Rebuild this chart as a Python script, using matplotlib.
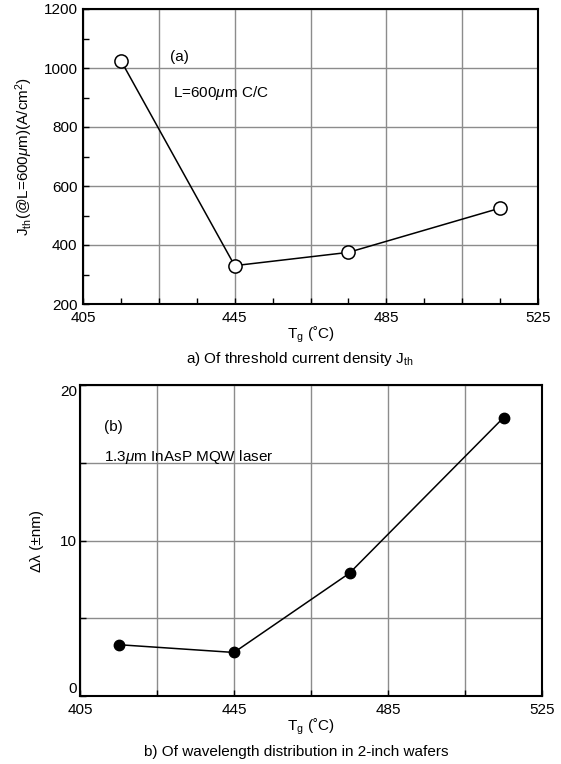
import numpy as np
import matplotlib
matplotlib.use("Agg")
import matplotlib.pyplot as plt

plt.rcParams['font.family'] = ['Liberation Sans', 'DejaVu Sans']
plt.rcParams['mathtext.fontset'] = 'custom'
plt.rcParams['mathtext.rm'] = 'Liberation Sans'
plt.rcParams['mathtext.it'] = 'Liberation Sans:italic'
plt.rcParams['font.size'] = 11

# Data
tg = [415, 445, 475, 515]
jth = [1025, 330, 375, 525]
dlam = [3.3, 2.8, 7.9, 17.9]

x_labels = [405, 445, 485, 525]

W, H = 561, 764
fig = plt.figure(figsize=(W / 100, H / 100), dpi=100)

ax1 = fig.add_axes([83 / W, 1 - 304 / H, 455 / W, 295 / H])
ax2 = fig.add_axes([80 / W, 1 - 696 / H, 462 / W, 311 / H])


def style_x(ax):
    ax.set_xlim(405, 525)
    ax.set_xticks(np.arange(405, 526, 20))
    ax.set_xticklabels([str(v) if v in x_labels else '' for v in range(405, 526, 20)])
    ax.grid(True, color='#8c8c8c', linewidth=1.0)
    ax.set_axisbelow(True)
    for s in ax.spines.values():
        s.set_linewidth(1.5)
    ax.tick_params(axis='x', direction='in', length=4, width=1, top=False, pad=5)
    ax.tick_params(axis='y', direction='in', length=4, width=1, right=False, pad=4)
    ax.set_xlabel('T$_{\\rm g}$ (˚C)', labelpad=0)


# top panel
style_x(ax1)
ax1.set_ylim(200, 1200)
ax1.set_yticks(np.arange(200, 1201, 200))
ax1.set_xticks(np.arange(415, 525, 20), minor=True)
ax1.set_yticks(np.arange(300, 1200, 200), minor=True)
ax1.tick_params(which='minor', direction='in', length=4, width=1)
ax1.plot(tg, jth, color='black', linewidth=1.1, marker='o', markersize=9.5,
         markerfacecolor='white', markeredgecolor='black', markeredgewidth=1.1)
ax1.set_ylabel('J$_{\\rm th}$(@L=600$\\mu$m)(A/cm$^2$)', labelpad=6)
ax1.text(0.191, 0.837, '(a)', transform=ax1.transAxes, va='center', ha='left')
ax1.text(0.198, 0.715, 'L=600$\\mu$m C/C', transform=ax1.transAxes, va='center', ha='left')
fig.text(300 / W, 1 - 359 / H, 'a) Of threshold current density J$_{\\rm th}$',
         ha='center', va='center')

# bottom panel
style_x(ax2)
ax2.set_ylim(0, 20)
ax2.set_yticks(np.arange(0, 21, 5))
ax2.set_yticklabels(['0', '', '10', '', '20'])
ax2.tick_params(axis='y', pad=2)
ylabs = ax2.get_yticklabels()
ylabs[0].set_va('bottom')
ylabs[-1].set_va('top')
ax2.plot(tg, dlam, color='black', linewidth=1.1, marker='o', markersize=7.5,
         markerfacecolor='black', markeredgecolor='black')
ax2.set_ylabel('Δλ (±nm)', labelpad=12)
ax2.text(0.052, 0.865, '(b)', transform=ax2.transAxes, va='center', ha='left')
ax2.text(0.052, 0.768, '1.3$\\mu$m InAsP MQW laser', transform=ax2.transAxes, va='center', ha='left')
fig.text(296 / W, 1 - 752 / H, 'b) Of wavelength distribution in 2-inch wafers',
         ha='center', va='center')

fig.savefig('out.png', dpi=100)
